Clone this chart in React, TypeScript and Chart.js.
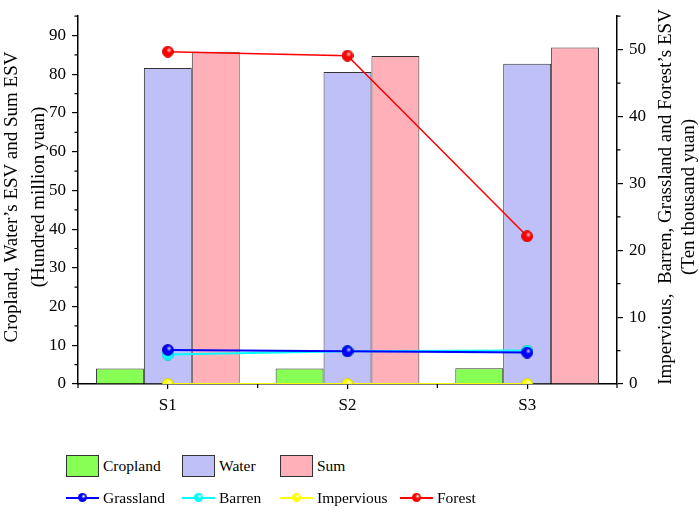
import { useRef, useEffect } from 'react';
import { Chart, registerables } from 'chart.js';

Chart.register(...registerables);

const categories = ['S1', 'S2', 'S3'];

// left axis (hundred million yuan)
const cropland = [4.0, 4.0, 4.1];
const water = [81.6, 80.6, 82.7];
const sum = [85.8, 84.7, 86.9];

// right axis (ten thousand yuan)
const grassland = [5.1, 4.9, 4.7];
const barren = [4.4, 4.9, 5.0];
const impervious = [0, 0, 0];
const forest = [49.7, 49.1, 22.1];

const leftMax = 95;
const rightMax = 55;

const FONT = '"Liberation Serif", "Times New Roman", serif';

const barSeries = [
  { label: 'Cropland', data: cropland, color: '#88FF55' },
  { label: 'Water', data: water, color: '#C0C0F8' },
  { label: 'Sum', data: sum, color: '#FFB0B8' },
];

const lineSeries = [
  { label: 'Grassland', data: grassland, color: '#0000FF', dark: '#0000B0' },
  { label: 'Barren', data: barren, color: '#00FFFF', dark: '#00C0D0' },
  { label: 'Impervious', data: impervious, color: '#FFFF00', dark: '#D0D000' },
  { label: 'Forest', data: forest, color: '#FF0000', dark: '#C00000' },
];

// shaded ball used as point style
function makeSphere(color: string, dark: string, size = 12) {
  const c = document.createElement('canvas');
  c.width = size;
  c.height = size;
  const g = c.getContext('2d')!;
  const r = size / 2;
  g.fillStyle = color;
  g.beginPath();
  g.arc(r, r, r - 0.5, 0, Math.PI * 2);
  g.fill();
  const grad = g.createRadialGradient(r * 1.2, r * 0.75, 0, r * 1.2, r * 0.75, r * 0.45);
  grad.addColorStop(0, 'rgba(255,255,255,0.85)');
  grad.addColorStop(1, 'rgba(255,255,255,0)');
  g.fillStyle = grad;
  g.fill();
  g.strokeStyle = dark;
  g.lineWidth = 0.8;
  g.stroke();
  return c;
}

// small ticks between the labelled ones
const minorTicks = {
  id: 'minorTicks',
  afterDraw(chart: any) {
    const { ctx, scales } = chart;
    const x = scales.x;
    const yL = scales.y;
    const yR = scales.y1;
    ctx.save();
    ctx.strokeStyle = '#000';
    ctx.lineWidth = 1.2;
    ctx.beginPath();
    for (let v = 5; v <= leftMax; v += 10) {
      const py = yL.getPixelForValue(v);
      ctx.moveTo(yL.right, py);
      ctx.lineTo(yL.right - 3.5, py);
    }
    for (let v = 5; v <= rightMax; v += 10) {
      const py = yR.getPixelForValue(v);
      ctx.moveTo(yR.left, py);
      ctx.lineTo(yR.left + 3.5, py);
    }
    const step = x.width / categories.length;
    for (let i = 0; i <= categories.length; i++) {
      const px = x.left + step * i;
      ctx.moveTo(px, x.top);
      ctx.lineTo(px, x.top + 4);
    }
    ctx.stroke();
    ctx.restore();
  },
};

function LegendRow({ items, kind }: { items: any[]; kind: 'bar' | 'line' }) {
  const cols = [66, 182, 280, 400];
  return (
    <>
      {items.map((s, i) => (
        <div
          key={s.label}
          style={{
            position: 'absolute',
            left: cols[i],
            top: kind === 'bar' ? 454 : 486,
            height: 24,
            display: 'flex',
            alignItems: 'center',
            gap: 4,
            fontSize: 15.5,
            whiteSpace: 'nowrap',
          }}
        >
          {kind === 'bar' ? (
            <span
              style={{
                width: 31,
                height: 20,
                background: s.color,
                border: '1px solid #333',
                display: 'inline-block',
              }}
            />
          ) : (
            <span style={{ width: 33, height: 24, position: 'relative', display: 'inline-block' }}>
              <span
                style={{
                  position: 'absolute',
                  left: 0,
                  right: 0,
                  top: 11,
                  height: 2,
                  background: s.color,
                }}
              />
              <span
                style={{
                  position: 'absolute',
                  left: 12,
                  top: 7,
                  width: 9,
                  height: 9,
                  borderRadius: '50%',
                  background: `radial-gradient(circle at 62% 38%, rgba(255,255,255,0.8) 0%, ${s.color} 30%)`,
                }}
              />
            </span>
          )}
          {s.label}
        </div>
      ))}
    </>
  );
}

export default function App() {
  const canvasRef = useRef<HTMLCanvasElement>(null);

  useEffect(() => {
    if (!canvasRef.current) return;

    const tickFont = { family: FONT, size: 17 };

    const chart = new Chart(canvasRef.current, {
      type: 'bar',
      data: {
        labels: categories,
        datasets: [
          ...lineSeries.map((s, i) => ({
            type: 'line' as const,
            label: s.label,
            data: s.data,
            borderColor: s.color,
            backgroundColor: s.color,
            borderWidth: s.label === 'Forest' ? 1.5 : 2,
            pointStyle: makeSphere(s.color, s.dark),
            pointRadius: 6,
            yAxisID: 'y1',
            order: i,
          })),
          ...barSeries.map((s, i) => ({
            type: 'bar' as const,
            label: s.label,
            data: s.data,
            backgroundColor: s.color,
            borderColor: '#333',
            borderWidth: 1,
            yAxisID: 'y',
            categoryPercentage: 0.8,
            barPercentage: 1.0,
            order: 10 + i,
          })),
        ],
      },
      options: {
        responsive: false,
        animation: false,
        layout: { padding: { top: 9, left: 0, right: 0, bottom: 0 } },
        plugins: {
          legend: { display: false },
          tooltip: { enabled: false },
        },
        scales: {
          x: {
            offset: true,
            grid: {
              display: true,
              drawOnChartArea: false,
              offset: false,
              tickLength: 5,
              color: '#000',
              lineWidth: 1.2,
            },
            border: { display: true, color: '#000', width: 1.5 },
            ticks: {
              color: '#000',
              padding: 6,
              font: tickFont,
            },
            afterFit: (scale: any) => {
              scale.height = 46;
            },
          },
          y: {
            type: 'linear',
            position: 'left',
            min: 0,
            max: leftMax,
            grid: {
              display: true,
              drawOnChartArea: false,
              tickLength: 6,
              color: '#000',
              lineWidth: 1.2,
            },
            border: { display: true, color: '#000', width: 1.5 },
            ticks: {
              stepSize: 10,
              includeBounds: false,
              color: '#000',
              padding: 6,
              font: tickFont,
            },
            afterFit: (scale: any) => {
              scale.width = 78;
            },
          },
          y1: {
            type: 'linear',
            position: 'right',
            min: 0,
            max: rightMax,
            grid: {
              display: true,
              drawOnChartArea: false,
              tickLength: 6,
              color: '#000',
              lineWidth: 1.2,
            },
            border: { display: true, color: '#000', width: 1.5 },
            ticks: {
              stepSize: 10,
              includeBounds: false,
              color: '#000',
              padding: 6,
              font: tickFont,
            },
            afterFit: (scale: any) => {
              scale.width = 82;
            },
          },
        },
      },
      plugins: [minorTicks],
    });

    // redraw once the serif face is surely available to the canvas
    document.fonts.load('17px "Liberation Serif"').then(() => chart.update());

    return () => chart.destroy();
  }, []);

  const titleStyle = (x: number): React.CSSProperties => ({
    position: 'absolute',
    left: x,
    top: 197,
    transform: 'translate(-50%, -50%) rotate(-90deg)',
    whiteSpace: 'pre',
    fontSize: 19,
    lineHeight: 1,
  });

  return (
    <div
      style={{
        position: 'fixed',
        left: 0,
        top: 0,
        width: 699,
        height: 509,
        background: '#fff',
        fontFamily: FONT,
        color: '#000',
      }}
    >
      <canvas ref={canvasRef} width={699} height={430} style={{ display: 'block' }} />
      <div style={titleStyle(10)}>Cropland, Water’s ESV and Sum ESV</div>
      <div style={titleStyle(37)}>(Hundred million yuan)</div>
      <div style={titleStyle(664)}>Impervious,  Barren, Grassland and Forest’s ESV</div>
      <div style={titleStyle(687)}>(Ten thousand yuan)</div>
      <LegendRow items={barSeries} kind="bar" />
      <LegendRow items={lineSeries} kind="line" />
    </div>
  );
}
